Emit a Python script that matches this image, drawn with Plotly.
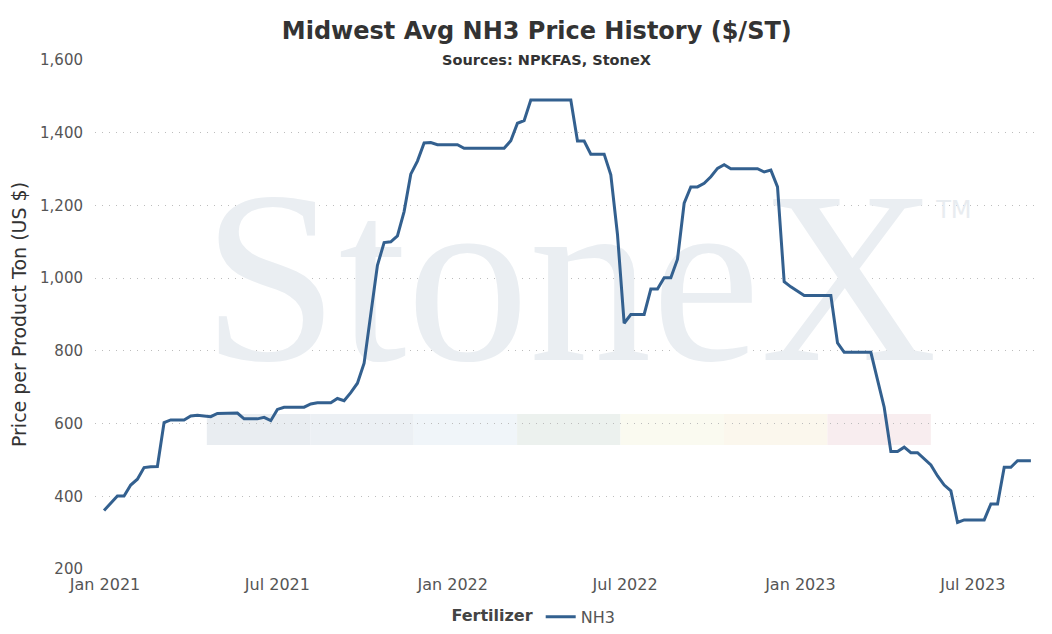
import pandas as pd
import plotly.graph_objects as go

# weekly Midwest NH3 average ($/short ton)
start_date = "2020-12-31"
nh3 = [
    361, 382, 401, 401, 431, 447, 479, 481, 482, 603,
    610, 610, 610, 621, 623, 621, 619, 628, 629, 629,
    629, 613, 613, 613, 617, 608, 639, 645, 645, 645,
    645, 654, 657, 657, 657, 669, 663, 685, 711, 766,
    905, 1035, 1098, 1100, 1116, 1183, 1286, 1322, 1372, 1373,
    1367, 1367, 1367, 1367, 1357, 1357, 1357, 1357, 1357, 1357,
    1357, 1378, 1426, 1433, 1490, 1490, 1490, 1490, 1490, 1490,
    1490, 1377, 1377, 1341, 1341, 1341, 1284, 1120, 876, 900,
    900, 900, 970, 970, 1001, 1001, 1052, 1206, 1251, 1251,
    1261, 1279, 1302, 1312, 1301, 1301, 1301, 1301, 1301, 1292,
    1297, 1251, 990, 976, 963, 952, 952, 952, 952, 952,
    822, 796, 796, 796, 796, 796, 720, 645, 523, 523,
    535, 520, 520, 502, 486, 456, 431, 415, 328, 335,
    335, 335, 335, 379, 379, 480, 480, 498, 498, 498,
]
dates = pd.date_range(start_date, periods=len(nh3), freq="7D")

band_colors = ["#e9edf1", "#ecf0f4", "#f0f5f9", "#ecf1ee",
               "#fafaf0", "#fbf7ed", "#f8edef"]

x_range = [pd.Timestamp("2020-12-21 12:00"), pd.Timestamp("2023-09-06 10:00")]
y_range = [200, 1600]


def to_data(px, py):
    # fraction of the plot area -> data coords (for the watermark only)
    return (x_range[0] + (x_range[1] - x_range[0]) * px,
            y_range[0] + (y_range[1] - y_range[0]) * py)


fig = go.Figure()

# StoneX watermark, drawn as text traces so the line sits on top
wx, wy = to_data(0.504, 0.531)
tx, ty = to_data(0.893, 0.701)
fig.add_trace(go.Scatter(
    x=[wx], y=[wy], mode="text", text=["StoneX"], textposition="middle center",
    textfont=dict(family="Liberation Serif", size=245, color="#eaeef2"),
    hoverinfo="skip", showlegend=False,
))
fig.add_trace(go.Scatter(
    x=[tx], y=[ty], mode="text", text=["TM"], textposition="middle right",
    textfont=dict(family="DejaVu Sans", size=24, color="#e8ecf0"),
    hoverinfo="skip", showlegend=False,
))

fig.add_trace(go.Scatter(
    x=dates, y=nh3, mode="lines", name="NH3", showlegend=True,
    line=dict(color="#33608f", width=3),
))

bx0, bw = 0.1187, 0.1098
for i, c in enumerate(band_colors):
    fig.add_shape(type="rect", xref="paper", yref="paper",
                  x0=bx0 + i * bw, x1=bx0 + (i + 1) * bw, y0=0.2436, y1=0.3045,
                  fillcolor=c, line_width=0, layer="below")

fig.add_annotation(
    text="<b>Sources: NPKFAS, StoneX</b>", xref="paper", yref="paper",
    x=0.479, y=1.0, xanchor="center", yanchor="middle", showarrow=False,
    bgcolor="white", font=dict(family="DejaVu Sans", size=14.5, color="#333333"),
)

fig.update_layout(
    width=1052, height=634,
    margin=dict(l=95, r=15, t=60, b=65, autoexpand=False),
    paper_bgcolor="white", plot_bgcolor="white",
    font=dict(family="DejaVu Sans", color="#555555"),
    title=dict(text="<b>Midwest Avg NH3 Price History ($/ST)</b>",
               x=0.469, xref="paper", xanchor="center",
               y=0.951, yref="container", yanchor="middle",
               font=dict(family="DejaVu Sans", size=24, color="#333333")),
    legend=dict(orientation="h", x=0.467, xanchor="center", y=-0.094, yanchor="middle",
                title=dict(text="<b>Fertilizer</b>", font=dict(size=16, color="#444444")),
                font=dict(size=16, color="#555555")),
    xaxis=dict(range=x_range, tick0="2021-01-01", dtick="M6", tickformat="%b %Y",
               showgrid=False, zeroline=False, showline=False,
               ticklabelstandoff=4,
               tickfont=dict(size=16, color="#555555")),
    yaxis=dict(range=y_range, dtick=200, tickformat=",",
               showgrid=True, gridcolor="#bdbdbd", griddash="1px,6px", gridwidth=1,
               zeroline=False, showline=False, ticklabelstandoff=11,
               tickfont=dict(size=15, color="#555555"),
               title=dict(text="Price per Product Ton (US $)",
                          font=dict(size=19, color="#333333"), standoff=8)),
)

fig.write_html("out.html", config={"displayModeBar": False},
               post_script="document.body.style.margin='0';")
